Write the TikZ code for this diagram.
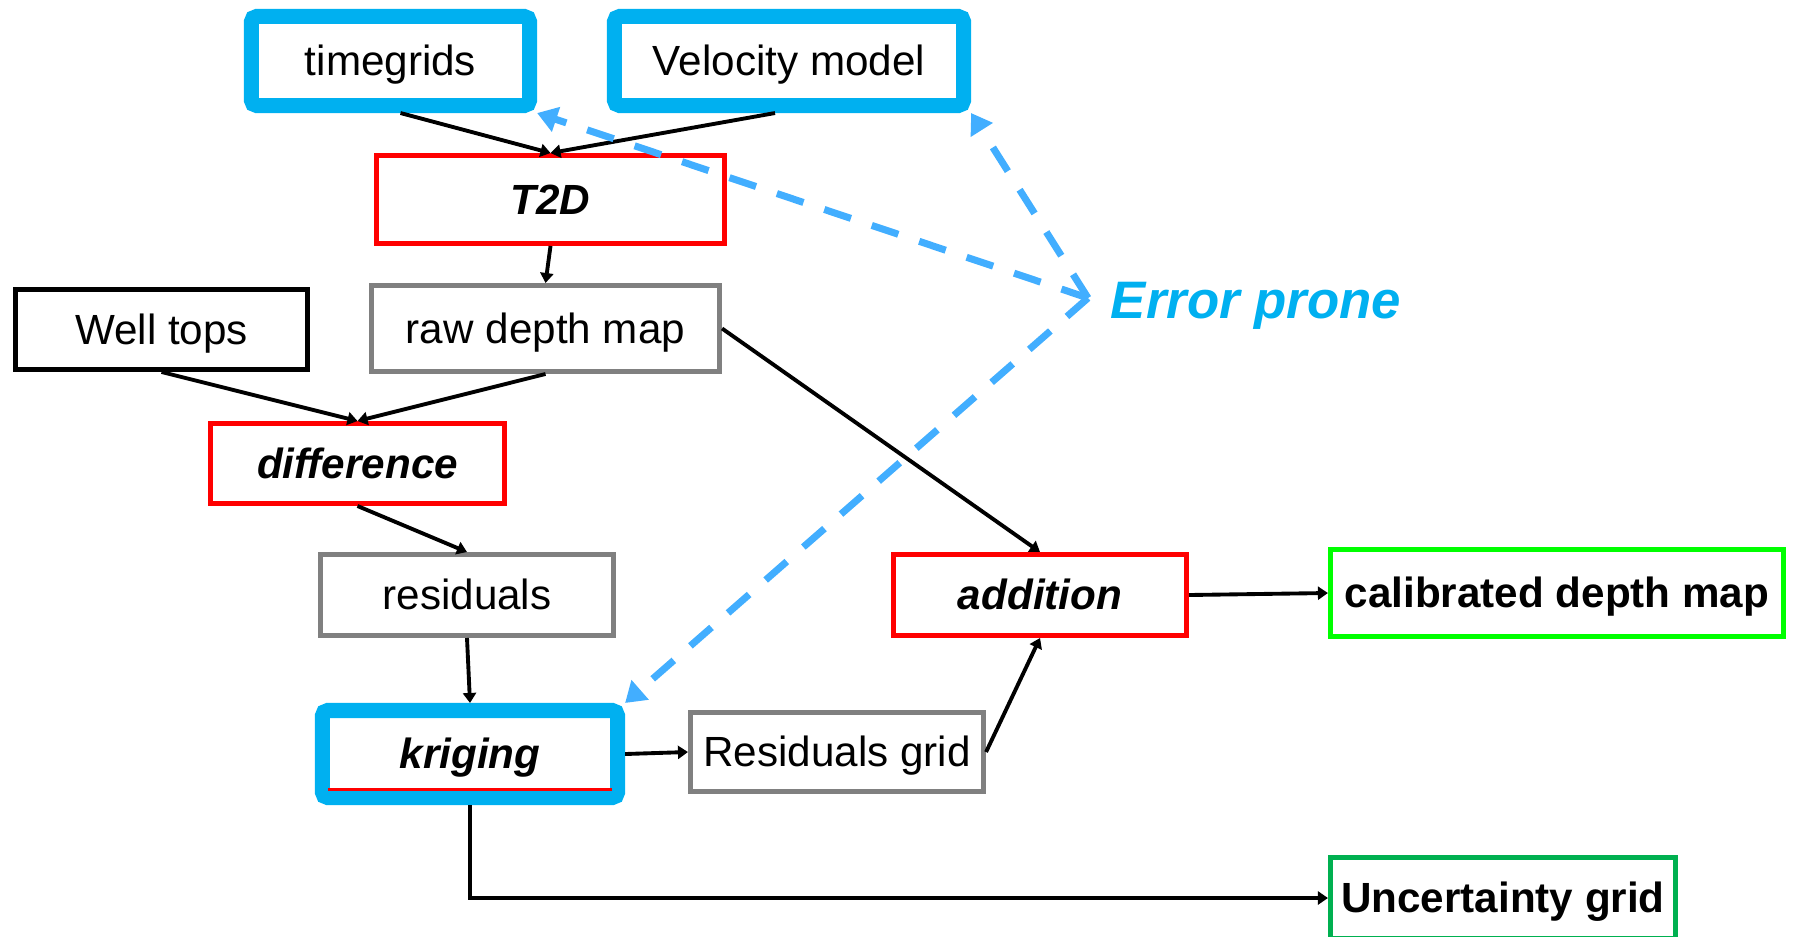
\documentclass[tikz,border=0pt]{standalone}
\usepackage{fontspec}
\setmainfont{Liberation Sans}
\usetikzlibrary{arrows.meta}

\definecolor{boxblue}{RGB}{0,176,240}
\definecolor{dashblue}{RGB}{66,174,255}
\definecolor{calgreen}{RGB}{0,255,0}
\definecolor{uncgreen}{RGB}{0,176,80}

\begin{document}
\begin{tikzpicture}[x=0.01cm,y=-0.01cm,
  box/.style={draw,align=center,inner sep=0pt,line width=1.4pt,text height=10.9pt,text depth=2.5pt,font=\fontsize{12}{14}\selectfont},
  inbox/.style={box,draw=boxblue,line width=4.27pt,rounded corners=1.5pt,minimum height=0.89cm},
  procbox/.style={box,draw=red,font=\fontsize{12}{14}\selectfont\bfseries\itshape},
  databox/.style={box,draw=gray},
  outbox/.style={box,font=\fontsize{12}{14}\selectfont\bfseries},
  rel/.style={draw,-{Triangle[length=0.1cm,width=0.13cm]},line width=1.1pt},
  err/.style={draw=dashblue,-{Triangle[length=0.2cm,width=0.25cm]},line width=2pt,dash pattern=on 0.28cm off 0.22cm}
]
\useasboundingbox (0,0) rectangle (1795,936);
\node[inbox,minimum width=2.78cm] (timegrids) at (390.5,61) {timegrids};
\node[inbox,minimum width=3.49cm] (velocity) at (789,61) {Velocity model};
\node[procbox,minimum width=3.48cm,minimum height=0.88cm] (t2d) at (550.5,199.5) {T2D};
\node[databox,minimum width=3.48cm,minimum height=0.86cm] (rawdepth) at (545.5,328.5) {raw depth map};
\node[box,minimum width=2.92cm,minimum height=0.80cm] (welltops) at (161.5,329.5) {Well tops};
\node[procbox,minimum width=2.94cm,minimum height=0.80cm] (difference) at (357.5,463.5) {difference};
\node[databox,minimum width=2.93cm,minimum height=0.81cm] (residuals) at (467,595) {residuals};
\node[inbox,minimum width=2.95cm,minimum height=0.87cm,font=\fontsize{12}{14}\selectfont\bfseries\itshape] (kriging) at (470,754) {kriging};
\node[databox,minimum width=2.93cm,minimum height=0.79cm] (resgrid) at (837,752) {Residuals grid};
\node[procbox,minimum width=2.93cm,minimum height=0.81cm] (addition) at (1040,595) {addition};
\node[outbox,draw=calgreen,minimum width=4.53cm,minimum height=0.87cm] (caldepth) at (1557,593) {calibrated depth map};
\node[outbox,draw=uncgreen,minimum width=3.45cm,minimum height=0.81cm] (uncgrid) at (1503,898) {Uncertainty grid};
\node[font=\fontsize{15}{18}\selectfont\bfseries\itshape,text=boxblue,text height=13.6pt,text depth=3.2pt] (errprone) at (1256,300) {Error prone};
\coordinate (ep) at (1088,298);
% red edge of the kriging box
\draw[red,line width=0.6pt] ([shift={(13,-15.5)}]kriging.south west) -- ([shift={(-13,-15.5)}]kriging.south east);
\draw[rel] ([xshift=0.1cm]timegrids.south) -- (t2d.north);
\draw[rel] ([xshift=-0.14cm]velocity.south) -- (t2d.north);
\draw[rel] (t2d.south) -- (rawdepth.north);
\draw[rel] (welltops.south) -- (difference.north);
\draw[rel] (rawdepth.south) -- (difference.north);
\draw[rel] (rawdepth.east) -- (addition.north);
\draw[rel] (difference.south) -- (residuals.north);
\draw[rel] (residuals.south) -- (kriging.north);
\draw[rel] (kriging.east) -- (resgrid.west);
\draw[rel] (resgrid.east) -- (addition.south);
\draw[rel] (addition.east) -- (caldepth.west);
\draw[rel] (kriging.south) |- (uncgrid.west);
\draw[err] (ep) -- (timegrids.south east);
\draw[err] (ep) -- (velocity.south east);
\draw[err] (ep) -- (kriging.north east);
\end{tikzpicture}
\end{document}
